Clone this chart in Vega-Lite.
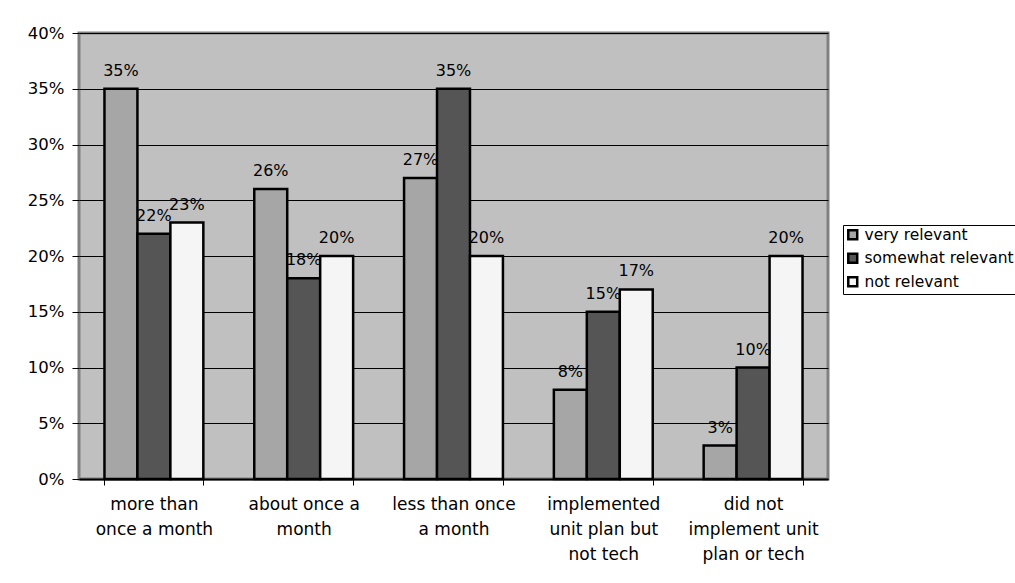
{
  "$schema": "https://vega.github.io/schema/vega-lite/v6.json",
  "width": 749,
  "height": 446,
  "autosize": "none",
  "padding": {"left": 79, "top": 33, "right": 187, "bottom": 104},
  "background": "white",
  "config": {
    "font": "DejaVu Sans",
    "view": {"fill": "#c0c0c0", "stroke": "#808080", "strokeWidth": 3}
  },
  "data": {
    "values": [
      {"cat": "more than|once a month", "series": "very relevant", "value": 0.35},
      {"cat": "more than|once a month", "series": "somewhat relevant", "value": 0.22},
      {"cat": "more than|once a month", "series": "not relevant", "value": 0.23},
      {"cat": "about once a|month", "series": "very relevant", "value": 0.26},
      {"cat": "about once a|month", "series": "somewhat relevant", "value": 0.18},
      {"cat": "about once a|month", "series": "not relevant", "value": 0.20},
      {"cat": "less than once|a month", "series": "very relevant", "value": 0.27},
      {"cat": "less than once|a month", "series": "somewhat relevant", "value": 0.35},
      {"cat": "less than once|a month", "series": "not relevant", "value": 0.20},
      {"cat": "implemented|unit plan but|not tech", "series": "very relevant", "value": 0.08},
      {"cat": "implemented|unit plan but|not tech", "series": "somewhat relevant", "value": 0.15},
      {"cat": "implemented|unit plan but|not tech", "series": "not relevant", "value": 0.17},
      {"cat": "did not|implement unit|plan or tech", "series": "very relevant", "value": 0.03},
      {"cat": "did not|implement unit|plan or tech", "series": "somewhat relevant", "value": 0.10},
      {"cat": "did not|implement unit|plan or tech", "series": "not relevant", "value": 0.20}
    ]
  },
  "encoding": {
    "x": {
      "field": "cat",
      "type": "nominal",
      "sort": null,
      "scale": {"paddingInner": 0.34, "paddingOuter": 0.17},
      "axis": {
        "title": null,
        "labelAngle": 0,
        "labelExpr": "split(datum.label, '|')",
        "labelFontSize": 17,
        "labelLineHeight": 25,
        "labelColor": "black",
        "labelPadding": 11,
        "tickBand": "extent",
        "tickColor": "black",
        "tickSize": 6,
        "domainColor": "black",
        "domainWidth": 2,
        "grid": false
      }
    },
    "xOffset": {
      "field": "series",
      "type": "nominal",
      "sort": ["very relevant", "somewhat relevant", "not relevant"]
    },
    "y": {
      "field": "value",
      "type": "quantitative",
      "scale": {"domain": [0, 0.4], "nice": false},
      "axis": {
        "title": null,
        "format": ".0%",
        "values": [0, 0.05, 0.1, 0.15, 0.2, 0.25, 0.3, 0.35, 0.4],
        "labelFontSize": 16.5,
        "labelColor": "black",
        "labelPadding": 8,
        "tickColor": "black",
        "tickSize": 7,
        "domain": false,
        "grid": true,
        "gridColor": "black",
        "gridOpacity": 1,
        "gridWidth": 1
      }
    }
  },
  "layer": [
    {
      "mark": {"type": "bar", "stroke": "black", "strokeWidth": 2.5},
      "encoding": {
        "color": {
          "field": "series",
          "type": "nominal",
          "scale": {
            "domain": ["very relevant", "somewhat relevant", "not relevant"],
            "range": ["#a6a6a6", "#555555", "#f5f5f5"]
          },
          "legend": {
            "title": null,
            "orient": "none",
            "legendX": 764,
            "legendY": 192,
            "strokeColor": "black",
            "fillColor": "white",
            "padding": 2,
            "symbolType": "square",
            "symbolSize": 80,
            "symbolStrokeColor": "black",
            "symbolStrokeWidth": 2.5,
            "symbolOpacity": 1,
            "labelFontSize": 15.5,
            "labelColor": "black",
            "labelOffset": 4,
            "rowPadding": 3.5
          }
        }
      }
    },
    {
      "mark": {"type": "text", "dy": -18, "fontSize": 16, "color": "black"},
      "encoding": {
        "text": {"field": "value", "type": "quantitative", "format": ".0%"}
      }
    }
  ]
}
